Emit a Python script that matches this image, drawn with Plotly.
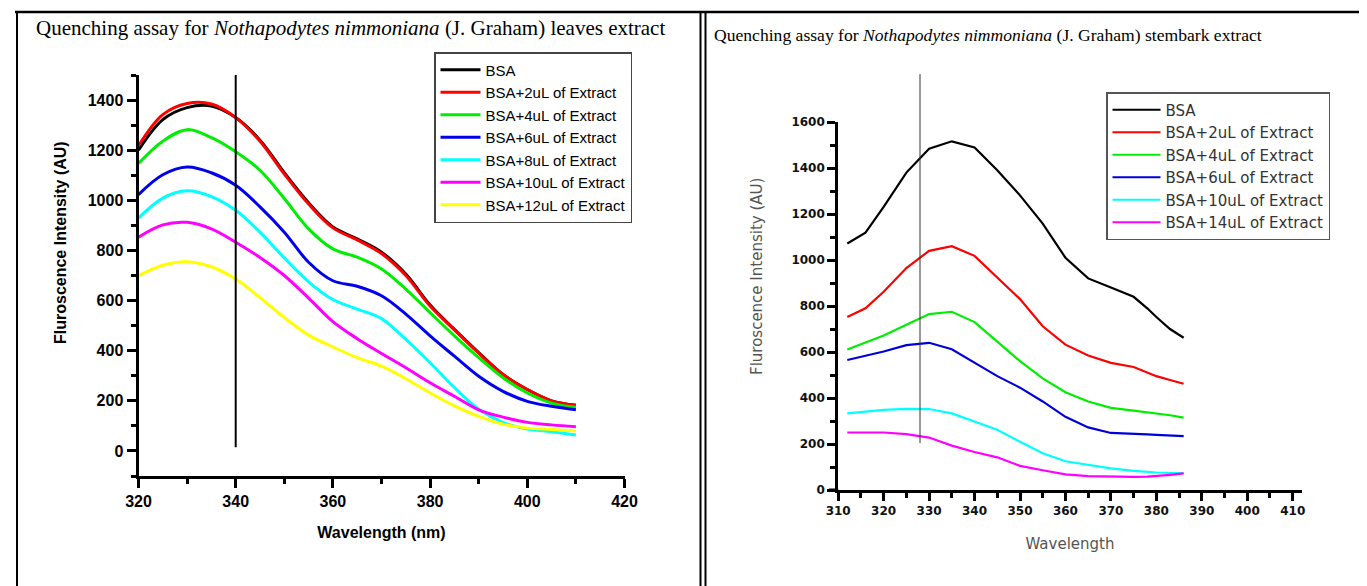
import plotly.graph_objects as go

# ---------------- data: left panel (leaves extract) ----------------
wl_leaves = [320, 325, 330, 335, 340, 345, 350, 355, 360, 365, 370, 375, 380, 385, 390, 395, 400, 405, 410]
leaves_bsa = [1200, 1322, 1370, 1376, 1330, 1240, 1110, 990, 894, 846, 793, 706, 582, 485, 392, 305, 245, 200, 182]
leaves_2ul = [1218, 1342, 1386, 1384, 1330, 1236, 1105, 985, 890, 842, 788, 700, 578, 483, 390, 305, 245, 200, 182]
leaves_4ul = [1147, 1236, 1282, 1250, 1194, 1120, 1007, 886, 806, 773, 726, 646, 552, 459, 372, 292, 231, 191, 174]
leaves_6ul = [1023, 1102, 1133, 1110, 1060, 974, 873, 753, 679, 657, 619, 546, 459, 378, 298, 238, 198, 178, 164]
leaves_8ul = [929, 1009, 1038, 1015, 960, 873, 770, 675, 604, 566, 528, 445, 352, 253, 166, 114, 87, 77, 64]
leaves_10ul = [853, 902, 912, 886, 833, 772, 700, 610, 516, 448, 389, 332, 272, 218, 164, 135, 114, 104, 97]
leaves_12ul = [699, 741, 755, 735, 686, 612, 532, 462, 415, 372, 338, 288, 231, 180, 138, 107, 91, 86, 80]
leaves_names = ["BSA", "BSA+2uL of Extract", "BSA+4uL of Extract", "BSA+6uL of Extract",
                "BSA+8uL of Extract", "BSA+10uL of Extract", "BSA+12uL of Extract"]
leaves_marker_wl = 340

# ---------------- data: right panel (stembark extract) ----------------
wl_stem = [312, 316, 320, 325, 330, 335, 340, 345, 350, 355, 360, 365, 370, 375, 378, 380, 383, 386]
stem_bsa = [1072, 1119, 1231, 1380, 1484, 1516, 1489, 1390, 1281, 1158, 1010, 920, 880, 840, 790, 752, 700, 662]
stem_2ul = [752, 790, 862, 965, 1040, 1060, 1018, 925, 830, 712, 632, 585, 553, 535, 512, 495, 478, 462]
stem_4ul = [611, 640, 672, 718, 765, 775, 730, 645, 560, 485, 425, 385, 357, 345, 338, 333, 325, 315]
stem_6ul = [565, 582, 602, 630, 640, 612, 552, 495, 445, 385, 318, 272, 248, 246, 242, 240, 238, 234]
stem_10ul = [333, 340, 348, 353, 352, 333, 298, 262, 210, 160, 125, 108, 94, 83, 78, 76, 74, 73]
stem_14ul = [250, 250, 250, 243, 228, 193, 165, 142, 105, 86, 68, 60, 57, 57, 58, 60, 66, 72]
stem_names = ["BSA", "BSA+2uL of Extract", "BSA+4uL of Extract", "BSA+6uL of Extract",
              "BSA+10uL of Extract", "BSA+14uL of Extract"]
stem_marker_wl = 328
stem_marker_y0 = 204

left_colors = ["#000000", "#ff0000", "#00ee00", "#0000ee", "#00ffff", "#ff00ff", "#ffff00"]
right_colors = ["#000000", "#ff0000", "#00ee00", "#0000dd", "#00ffff", "#ff00ff"]

LEFT_X = [320, 420]
LEFT_Y = [-100, 1500]
RIGHT_X = [310, 412]
RIGHT_Y = [0, 1600]

# page body has an 8px margin: size the figure so it ends at the window edge
OFF = 8
W, H = 1367 - OFF, 586 - OFF


def px(x):
    return (x - OFF) / W


def py(y):
    return 1 - (y - OFF) / H


fig = go.Figure()

left_series = [leaves_bsa, leaves_2ul, leaves_4ul, leaves_6ul, leaves_8ul, leaves_10ul, leaves_12ul]
for name, ys, c in zip(leaves_names, left_series, left_colors):
    fig.add_trace(go.Scatter(x=wl_leaves, y=ys, name=name, mode="lines",
                             line=dict(color=c, width=3, shape="spline", smoothing=1.0),
                             xaxis="x", yaxis="y", legend="legend"))

right_series = [stem_bsa, stem_2ul, stem_4ul, stem_6ul, stem_10ul, stem_14ul]
for name, ys, c in zip(stem_names, right_series, right_colors):
    fig.add_trace(go.Scatter(x=wl_stem, y=ys, name=name, mode="lines",
                             line=dict(color=c, width=2.2),
                             xaxis="x2", yaxis="y2", legend="legend2"))

left_tick_font = dict(family="Liberation Sans, Arial", size=16, color="#000", weight="bold")
right_tick_font = dict(family="DejaVu Sans", size=12, color="#111", weight="bold")

common = dict(automargin=False, showline=True, linecolor="black", linewidth=3,
              showgrid=False, zeroline=False, ticks="outside", tickwidth=2.5, tickcolor="black")

fig.update_layout(
    width=W, height=H,
    margin=dict(l=0, r=0, t=0, b=0, autoexpand=False),
    paper_bgcolor="white", plot_bgcolor="white",
    showlegend=True,
    xaxis=dict(domain=[px(138.5), px(624.5)], range=LEFT_X, anchor="y", ticklen=9,
               tickvals=[320, 340, 360, 380, 400, 420],
               minor=dict(tickvals=[330, 350, 370, 390, 410], ticklen=5, tickwidth=2.5, tickcolor="black", ticks="outside"),
               tickfont=left_tick_font,
               title=dict(text="Wavelength (nm)", font=dict(family="Liberation Sans, Arial", size=16, color="#000", weight="bold"), standoff=18),
               **common),
    yaxis=dict(domain=[py(476), py(75)], range=LEFT_Y, anchor="x", ticklen=9,
               tickvals=[0, 200, 400, 600, 800, 1000, 1200, 1400],
               minor=dict(tickvals=[-100, 100, 300, 500, 700, 900, 1100, 1300, 1500], ticklen=5, tickwidth=2.5, tickcolor="black", ticks="outside"),
               tickfont=left_tick_font,
               **common),
    xaxis2=dict(domain=[px(838.2), px(1301.8)], range=RIGHT_X, anchor="y2", ticklen=8,
                tickvals=list(range(310, 411, 10)),
                minor=dict(tickvals=list(range(315, 411, 10)), ticklen=5, tickwidth=2.5, tickcolor="black", ticks="outside"),
                tickfont=right_tick_font,
                title=dict(text="Wavelength", font=dict(family="DejaVu Sans", size=15, color="#555"), standoff=22),
                **common),
    yaxis2=dict(domain=[py(490), py(122)], range=RIGHT_Y, anchor="x2", ticklen=8,
                tickvals=list(range(0, 1601, 200)),
                minor=dict(tickvals=list(range(100, 1600, 200)), ticklen=5, tickwidth=2.5, tickcolor="black", ticks="outside"),
                tickfont=right_tick_font,
                **common),
    legend=dict(x=px(434), y=py(52), xanchor="left", yanchor="top",
                bordercolor="#444", borderwidth=1.5, bgcolor="white",
                font=dict(family="Liberation Sans, Arial", size=15, color="#000"),
                itemwidth=40, tracegroupgap=0),
    legend2=dict(x=px(1106), y=py(92), xanchor="left", yanchor="top",
                 bordercolor="#555", borderwidth=1.5, bgcolor="white",
                 font=dict(family="DejaVu Sans", size=15, color="#333"),
                 itemwidth=48, tracegroupgap=0),
)

# y axis titles (placed above the axis centre, as in the original)
fig.add_annotation(xref="paper", yref="paper", x=px(60), y=py(243), textangle=-90, showarrow=False,
                   xanchor="center", yanchor="middle", text="Fluroscence Intensity (AU)",
                   font=dict(family="Liberation Sans, Arial", size=16, color="#000", weight="bold"))
fig.add_annotation(xref="paper", yref="paper", x=px(757), y=py(277), textangle=-90, showarrow=False,
                   xanchor="center", yanchor="middle", text="Fluroscence Intensity (AU)",
                   font=dict(family="DejaVu Sans", size=15, color="#555"))

# reference lines
fig.add_shape(type="line", xref="x", yref="y", x0=leaves_marker_wl, x1=leaves_marker_wl,
              y0=15, y1=LEFT_Y[1], line=dict(color="black", width=2))
fig.add_shape(type="line", xref="x2", yref="y2 domain", x0=stem_marker_wl, x1=stem_marker_wl,
              y0=(stem_marker_y0 - RIGHT_Y[0]) / (RIGHT_Y[1] - RIGHT_Y[0]), y1=1.13,
              line=dict(color="#333", width=1))
# short overhang of the right x axis line to the left of the y axis (Origin style)
fig.add_shape(type="line", xref="x2 domain", yref="y2 domain", x0=-0.02, x1=0, y0=0, y1=0,
              line=dict(color="black", width=3))

# panel borders
top = py(12)
fig.add_shape(type="line", xref="paper", yref="paper", x0=px(15), x1=1.0, y0=top, y1=top,
              line=dict(color="black", width=2.5))
fig.add_shape(type="line", xref="paper", yref="paper", x0=px(17), x1=px(17), y0=0, y1=top,
              line=dict(color="black", width=2))
fig.add_shape(type="line", xref="paper", yref="paper", x0=px(700.5), x1=px(700.5), y0=0, y1=top,
              line=dict(color="black", width=2))
fig.add_shape(type="line", xref="paper", yref="paper", x0=px(705.5), x1=px(705.5), y0=0, y1=top,
              line=dict(color="black", width=2))

# titles
fig.add_annotation(xref="paper", yref="paper", x=px(350), y=py(28), xanchor="center", yanchor="middle",
                   showarrow=False,
                   text="Quenching assay for <i>Nothapodytes nimmoniana</i> (J. Graham) leaves extract",
                   font=dict(family="Liberation Serif, Times New Roman", size=21, color="#000"))
fig.add_annotation(xref="paper", yref="paper", x=px(712), y=py(35), xanchor="left", yanchor="middle",
                   showarrow=False,
                   text="Quenching assay for <i>Nothapodytes nimmoniana</i> (J. Graham) stembark extract",
                   font=dict(family="Liberation Serif, Times New Roman", size=17.6, color="#000"))

fig.write_html("out.html")
